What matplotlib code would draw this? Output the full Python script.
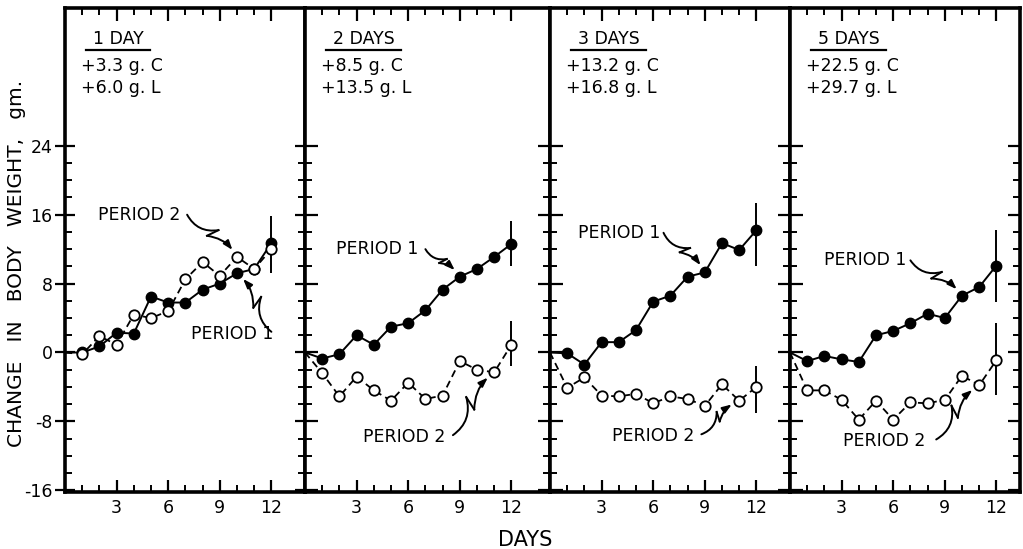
import numpy as np
import matplotlib
matplotlib.use("Agg")
from matplotlib import pyplot as plt

plt.rcParams['font.family'] = ['DejaVu Sans']
plt.rcParams['axes.unicode_minus'] = False

# Datos (cambio de peso, g) por dia
dias = list(range(0, 13))

p1_1dia = [0, 0.0, 0.7, 2.3, 2.2, 6.5, 5.8, 5.8, 7.3, 8.0, 9.2, 9.7, 12.7]
p2_1dia = [0, -0.2, 1.9, 0.9, 4.4, 4.0, 4.8, 8.5, 10.5, 8.9, 11.1, 9.7, 12.0]
p1_2dias = [0, -0.7, -0.2, 2.0, 0.9, 3.0, 3.4, 4.9, 7.3, 8.8, 9.7, 11.1, 12.6]
p2_2dias = [0, -2.4, -5.1, -2.8, -4.4, -5.6, -3.5, -5.4, -5.0, -1.0, -2.0, -2.3, 0.9]
p1_3dias = [0, -0.1, -1.4, 1.2, 1.2, 2.6, 5.9, 6.6, 8.8, 9.3, 12.7, 11.9, 14.2]
p2_3dias = [0, -4.1, -2.9, -5.0, -5.1, -4.8, -5.9, -5.1, -5.4, -6.2, -3.7, -5.6, -4.0]
p1_5dias = [0, -1.0, -0.4, -0.8, -1.1, 2.0, 2.5, 3.4, 4.5, 4.0, 6.6, 7.6, 10.1]
p2_5dias = [0, -4.4, -4.4, -5.5, -7.8, -5.6, -7.8, -5.8, -5.9, -5.5, -2.7, -3.8, -0.9]

# barras de error en el dia 12 (min, max)
barras_1dia = [(9.2, 15.8)]
barras_2dias = [(10.1, 15.3), (-1.6, 3.6)]
barras_3dias = [(10.1, 17.3), (-7.0, -1.6)]
barras_5dias = [(5.9, 14.2), (-4.9, 3.4)]

titulos = ['1 DAY', '2 DAYS', '3 DAYS', '5 DAYS']
ganancia_c = ['+3.3 g. C', '+8.5 g. C', '+13.2 g. C', '+22.5 g. C']
ganancia_l = ['+6.0 g. L', '+13.5 g. L', '+16.8 g. L', '+29.7 g. L']

periodo1 = [p1_1dia, p1_2dias, p1_3dias, p1_5dias]
periodo2 = [p2_1dia, p2_2dias, p2_3dias, p2_5dias]
barras = [barras_1dia, barras_2dias, barras_3dias, barras_5dias]

# Posicion de las etiquetas PERIOD: (texto x, y), inicio flecha, dia destino, lado del rayo
etiq_p1 = [((7.3, 2.1), (12.0, 2.4), 10, -1),
           ((1.8, 12.0), (7.0, 12.0), 9, 1),
           ((1.6, 13.9), (6.6, 13.9), 9, 1),
           ((2.0, 10.7), (7.0, 10.7), 10, 1)]
etiq_p2 = [((1.9, 16.0), (7.1, 16.0), 10, 1),
           ((3.4, -9.8), (8.6, -9.6), 11, 1),
           ((3.6, -9.7), (8.8, -9.5), 11, 1),
           ((3.1, -10.3), (8.5, -10.1), 11, 1)]

# bordes de los paneles en pixeles
bordes = [(65, 305), (305, 550), (550, 790), (790, 1020)]
W, H = 1023, 549
ESC_X, ESC_Y = 17.2, 8.6  # px por unidad


def rayo(ax, p0, p1, lado=1):
    """Flecha en zigzag tipo rayo del texto al punto."""
    x0, y0 = p0[0] * ESC_X, p0[1] * ESC_Y
    x1, y1 = p1[0] * ESC_X, p1[1] * ESC_Y
    dx, dy = x1 - x0, y1 - y0
    L = np.hypot(dx, dy)
    nx, ny = -dy / L * lado, dx / L * lado
    a = ((x0 + 0.52 * dx + 0.13 * L * nx) / ESC_X, (y0 + 0.52 * dy + 0.13 * L * ny) / ESC_Y)
    b = ((x0 + 0.44 * dx - 0.05 * L * nx) / ESC_X, (y0 + 0.44 * dy - 0.05 * L * ny) / ESC_Y)
    ax.annotate('', xy=a, xytext=p0,
                arrowprops=dict(arrowstyle='-', lw=1.4, color='k', shrinkA=0, shrinkB=0,
                                connectionstyle='arc3,rad=%.2f' % (0.35 * lado)))
    ax.plot([a[0], b[0]], [a[1], b[1]], color='k', lw=1.4)
    ax.annotate('', xy=p1, xytext=b,
                arrowprops=dict(arrowstyle='-|>,head_length=0.55,head_width=0.2', lw=1.4, color='k',
                                shrinkA=0, shrinkB=6,
                                connectionstyle='arc3,rad=%.2f' % (-0.25 * lado)))


fig = plt.figure(figsize=(W / 100, H / 100), dpi=100)

for i, (l, r) in enumerate(bordes):
    ax = fig.add_axes([l / W, 57 / H, (r - l) / W, 484 / H])
    ax.set_xlim(0, (r - l) / ESC_X)
    ax.set_ylim(-16.2, 40)

    ax.plot(dias, periodo1[i], '-', color='k', lw=1.4, marker='o', ms=7.5,
            mfc='k', mec='k', markevery=list(range(1, 13)), zorder=3)
    ax.plot(dias, periodo2[i], '--', color='k', lw=1.3, dashes=(4, 2.5), marker='o', ms=7.5,
            mfc='white', mec='k', mew=1.3, markevery=list(range(1, 13)), zorder=4)
    for lo, hi in barras[i]:
        ax.vlines(12, lo, hi, color='k', lw=1.4, zorder=2)

    # encabezado
    t = ax.text(1.6, 36.4, titulos[i], fontsize=12.5, ha='left', va='center')
    fig.canvas.draw()
    bb = t.get_window_extent().transformed(ax.transData.inverted())
    ax.plot([bb.x0 - 0.4, bb.x1 + 0.4], [35.1, 35.1], color='k', lw=1.6)
    ax.text(0.95, 33.3, ganancia_c[i], fontsize=12.5, ha='left', va='center')
    ax.text(0.95, 30.7, ganancia_l[i], fontsize=12.5, ha='left', va='center')

    # etiquetas de periodo
    for (pos, ini, dia, lado), serie, nombre in [(etiq_p1[i], periodo1[i], 'PERIOD 1'),
                                                  (etiq_p2[i], periodo2[i], 'PERIOD 2')]:
        ax.text(pos[0], pos[1], nombre, fontsize=12.5, ha='left', va='center')
        rayo(ax, ini, (dia, serie[dia]), lado)

    # ejes
    ax.set_xticks([3, 6, 9, 12])
    ax.set_xticks(range(1, 13), minor=True)
    ax.set_yticks(range(-16, 25, 8))
    ax.set_yticks(range(-16, 25, 2), minor=True)
    direccion = 'inout' if i == 0 else 'in'
    ax.tick_params(axis='x', which='major', direction='in', top=True, bottom=True,
                   length=9, width=1.6, labelsize=12.5, pad=5)
    ax.tick_params(axis='x', which='minor', direction='in', top=True, bottom=True,
                   length=5, width=1.4)
    ax.tick_params(axis='y', which='major', direction=direccion, left=True, right=True,
                   length=14 if i == 0 else 9, width=1.6, labelsize=12.5,
                   labelleft=(i == 0), pad=2)
    ax.tick_params(axis='y', which='minor', direction='in', left=True, right=True,
                   length=5, width=1.4)
    for s in ax.spines.values():
        s.set_linewidth(2.6)

fig.text(17 / W, 1 - 263 / H, 'CHANGE   IN   BODY   WEIGHT,   gm.', rotation=90,
         fontsize=14.5, ha='center', va='center')
fig.text(525 / W, 1 - 540 / H, 'DAYS', fontsize=15, ha='center', va='center')

fig.savefig('out.png', dpi=100)
